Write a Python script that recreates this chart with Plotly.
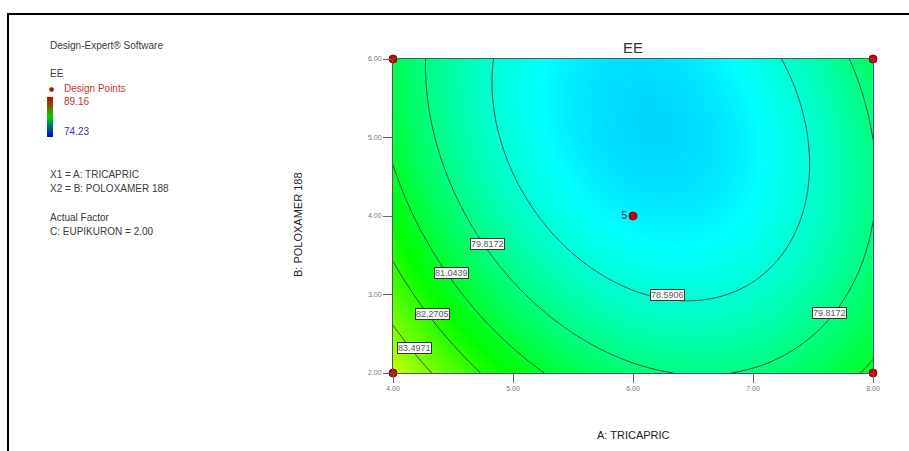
import numpy as np
import plotly.graph_objects as go

# ---- data ----
factor_a_range = [4.0, 8.0]          # A: TRICAPRIC
factor_b_range = [2.0, 6.0]          # B: POLOXAMER 188
# quadratic model in coded units: b0, A, B, A^2, B^2, AB
model_coef = [77.78, -0.90, -1.24, 2.92, 1.00, 0.79]
contour_levels = [78.5906, 79.8172, 81.0439, 82.2705, 83.4971]
ee_min, ee_max = 74.23, 89.16
design_a = [4, 4, 8, 8, 6]
design_b = [2, 6, 2, 6, 4]
design_text = ["", "", "", "", "5"]
tick_a = [4, 5, 6, 7, 8]
tick_b = [2, 3, 4, 5, 6]
label_texts = ["79.8172", "81.0439", "82.2705", "83.4971", "78.5906", "79.8172"]
label_a = [4.79, 4.49, 4.325, 4.175, 6.29, 7.64]
label_b = [3.64, 3.27, 2.75, 2.32, 2.99, 2.76]

# ---- surface ----
ga = np.linspace(factor_a_range[0], factor_a_range[1], 121)
gb = np.linspace(factor_b_range[0], factor_b_range[1], 121)
AA, BB = np.meshgrid(ga, gb)
ca = (AA - 6.0) / 2.0
cb = (BB - 4.0) / 2.0
c = model_coef
Z = c[0] + c[1]*ca + c[2]*cb + c[3]*ca**2 + c[4]*cb**2 + c[5]*ca*cb

L, R, T, B = 393, 36, 59, 78
W, H = 909, 451
PW, PH = W - L - R, H - T - B

def px(x):
    return (x - L) / PW

def py(y):
    return (H - B - y) / PH

colorscale = [[0.0, "rgb(0,0,255)"], [0.25, "rgb(0,255,255)"],
              [0.5, "rgb(0,255,0)"], [0.75, "rgb(255,255,0)"], [1.0, "rgb(255,0,0)"]]
legend_scale = [[0.0, "rgb(0,0,230)"], [0.5, "rgb(0,210,0)"], [1.0, "rgb(210,0,0)"]]

fig = go.Figure()
step = contour_levels[1] - contour_levels[0]
fig.add_trace(go.Contour(
    x=ga, y=gb, z=Z, zmin=ee_min, zmax=ee_max, colorscale=colorscale,
    contours=dict(coloring="heatmap", start=contour_levels[0],
                  end=contour_levels[-1] + step * 0.01, size=step, showlabels=False),
    line=dict(color="#2b4a42", width=1, smoothing=1),
    showscale=False, hoverinfo="skip"))

# continuous legend bar
fig.add_trace(go.Scatter(
    x=[None], y=[None], mode="markers",
    marker=dict(color=[ee_min, ee_max], cmin=ee_min, cmax=ee_max, colorscale=legend_scale,
                showscale=True,
                colorbar=dict(x=px(47), xanchor="left", y=py(117), yanchor="middle",
                              thickness=6, len=40, lenmode="pixels", outlinewidth=0,
                              xpad=0, ypad=0,
                              showticklabels=False, ticks="")),
    showlegend=False, hoverinfo="skip"))

fig.add_trace(go.Scatter(
    x=design_a, y=design_b, mode="markers+text", text=design_text,
    textposition="middle left", textfont=dict(size=10, color="#2a3a5a", family="Liberation Sans"),
    marker=dict(size=8, color="#d00000", line=dict(color="#900000", width=1)),
    cliponaxis=False, showlegend=False, hoverinfo="skip"))

annotations = []
for t, a, b in zip(label_texts, label_a, label_b):
    annotations.append(dict(x=a, y=b, xref="x", yref="y", text=t, showarrow=False,
                            font=dict(size=9, color="#555", family="Liberation Sans"),
                            bgcolor="white", bordercolor="#333", borderwidth=1, borderpad=0))

left_texts = [
    ("Design-Expert® Software", 48, 45, "#3a3a3a"),
    ("EE", 48, 73, "#3a3a3a"),
    ("Design Points", 62, 88, "#d03030"),
    ("89.16", 62, 101, "#c03030"),
    ("74.23", 62, 131, "#3030c0"),
    ("X1 = A: TRICAPRIC", 48, 174, "#3a3a3a"),
    ("X2 = B: POLOXAMER 188", 48, 188, "#3a3a3a"),
    ("Actual Factor", 48, 217, "#3a3a3a"),
    ("C: EUPIKURON = 2.00", 48, 231, "#3a3a3a"),
]
for t, x, y, col in left_texts:
    annotations.append(dict(x=px(x), y=py(y), xref="paper", yref="paper", text=t,
                            showarrow=False, xanchor="left", yanchor="middle",
                            font=dict(size=10, color=col, family="Liberation Sans")))
annotations.append(dict(x=px(51), y=py(88), xref="paper", yref="paper", text="●",
                        showarrow=False, xanchor="center", yanchor="middle",
                        font=dict(size=6, color="#a01010", family="DejaVu Sans")))

annotations.append(dict(x=0.5, y=py(47), xref="paper", yref="paper", text="EE",
                        showarrow=False, xanchor="center", yanchor="middle",
                        font=dict(size=15, color="#333", family="Liberation Sans")))
annotations.append(dict(x=0.5, y=py(435), xref="paper", yref="paper", text="A: TRICAPRIC",
                        showarrow=False, xanchor="center", yanchor="middle",
                        font=dict(size=11, color="#222", family="Liberation Sans")))
annotations.append(dict(x=px(298), y=py(225), xref="paper", yref="paper", text="B: POLOXAMER 188",
                        showarrow=False, xanchor="center", yanchor="middle", textangle=-90,
                        font=dict(size=11, color="#222", family="Liberation Sans")))

axis_common = dict(showgrid=False, zeroline=False, ticks="outside", ticklen=9,
                   tickcolor="#666", tickwidth=1, showline=True, linecolor="#4a5a60",
                   linewidth=1, mirror=True,
                   tickfont=dict(size=7, color="#777", family="Liberation Sans"))

fig.update_layout(
    width=W, height=H, autosize=False,
    margin=dict(l=L, r=R, t=T, b=B, pad=0),
    paper_bgcolor="white", plot_bgcolor="white",
    xaxis=dict(range=factor_a_range, tickvals=tick_a, ticktext=[f"{v:.2f}" for v in tick_a],
               **axis_common),
    yaxis=dict(range=factor_b_range, tickvals=tick_b, ticktext=[f"{v:.2f}" for v in tick_b],
               **axis_common),
    annotations=annotations,
    shapes=[dict(type="rect", xref="paper", yref="paper", x0=px(8), x1=px(920),
                 y0=py(470), y1=py(14), line=dict(color="black", width=2), layer="above")],
    showlegend=False,
)

fig.write_html("out.html")
